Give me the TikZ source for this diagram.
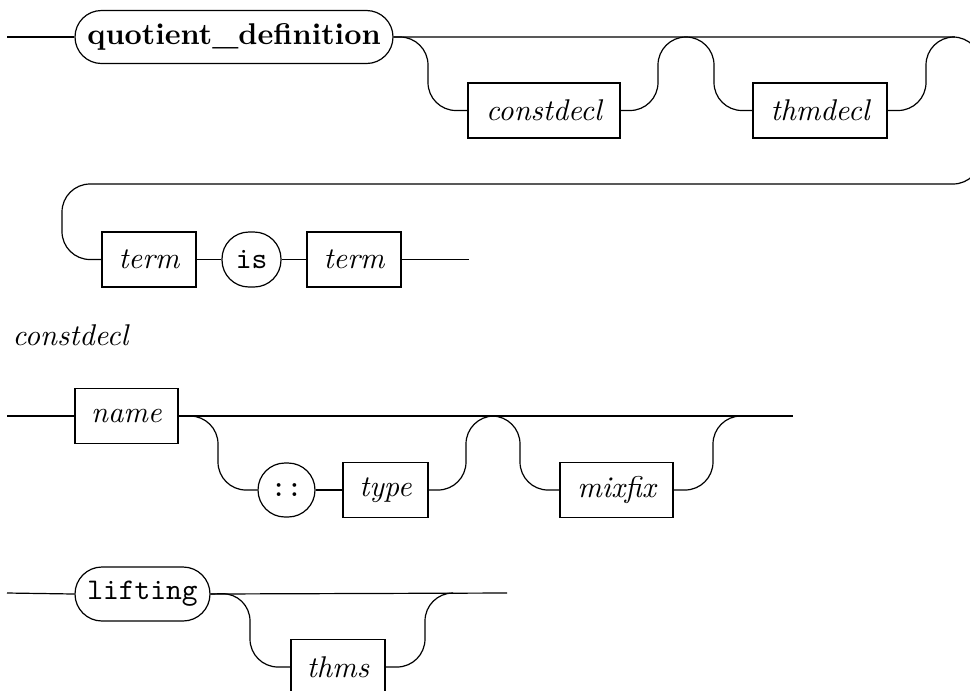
\documentclass[tikz,border=0pt]{standalone}
\begin{document}
\begin{tikzpicture}[x=0.33333pt,y=-0.33333pt,line width=0.4pt,
  ntbox/.style={draw, rectangle, minimum height=18.33pt, inner sep=0pt, font=\itshape},
  tbox/.style={draw, rectangle, rounded corners=9pt, minimum height=18pt, inner sep=0pt},
  conn/.style={rounded corners=9.33pt}]
\useasboundingbox (0,0) rectangle (970,690);
\clip (0,0) rectangle (970,690);

% ---------- nodes row 1 & 2 ----------
\coordinate (s1) at (7,37);
\node[tbox, minimum width=106pt, minimum height=17.67pt, rounded corners=8.83pt] (qd) at (234,37) {\textbf{quotient\_definition}};
\node[ntbox, minimum width=50.67pt] (constdecl) at (544,110.5) {constdecl};
\node[ntbox, minimum width=44.67pt] (thmdecl) at (820,110.5) {thmdecl};
\node[ntbox, minimum width=31.33pt] (term1) at (149,259.5) {term};
\node[tbox, minimum width=19.67pt, minimum height=18.33pt] (is) at (251.5,259.5) {\texttt{is}};
\node[ntbox, minimum width=31.33pt] (term2) at (354,259.5) {term};
\coordinate (r1) at (981,37);
\coordinate (r2) at (981,184);
\coordinate (l1) at (62,184);
\coordinate (l2) at (62,259.5);
\coordinate (e2) at (469,259.5);

\draw (s1) -- (qd.west);
\draw[conn] (qd.east) -- (r1) -- (r2) -- (l1) -- (l2) -- (term1.west);
\draw[conn] (qd.east) -- (428,37) -- (428,110.5) -- (constdecl.west);
\draw[conn] (constdecl.east) -- (658,110.5) -- (658,37) -- (714,37) -- (714,110.5) -- (thmdecl.west);
\draw[conn] (thmdecl.east) -- (926,110.5) -- (926,37) -- (955,37);
\draw (term1.east) -- (is.west);
\draw (is.east) -- (term2.west);
\draw (term2.east) -- (e2);

% ---------- label ----------
\node[anchor=base west, inner sep=0pt, font=\itshape] (lbl) at (12,345) {constdecl};

% ---------- row 3 ----------
\coordinate (s3) at (7,416);
\node[ntbox, minimum width=34.33pt] (name) at (126.5,416) {name};
\node[tbox, minimum width=19pt] (colons) at (286.5,490) {\texttt{::}};
\node[ntbox, minimum width=28.33pt] (type) at (385.5,490) {type};
\node[ntbox, minimum width=37.67pt] (mixfix) at (616.5,490) {mixfix};
\coordinate (e3) at (793,416);
\draw (s3) -- (name.west);
\draw (name.east) -- (e3);
\draw[conn] (name.east) -- (218,416) -- (218,490) -- (colons.west);
\draw (colons.east) -- (type.west);
\draw[conn] (type.east) -- (466,490) -- (466,416) -- (520,416) -- (520,490) -- (mixfix.west);
\draw[conn] (mixfix.east) -- (713,490) -- (713,416) -- (741,416);

% ---------- row 4 ----------
\coordinate (s4) at (7,593);
\node[tbox, minimum width=45pt] (lifting) at (142.5,594) {\texttt{lifting}};
\node[ntbox, minimum width=31.33pt] (thms) at (338,667) {thms};
\coordinate (e4) at (507,593);
\draw (s4) -- (lifting.west);
\draw (lifting.east) -- (e4);
\draw[conn] (lifting.east) -- (250,593) -- (250,667) -- (thms.west);
\draw[conn] (thms.east) -- (425,667) -- (425,593) -- (453,593);
\end{tikzpicture}
\end{document}
